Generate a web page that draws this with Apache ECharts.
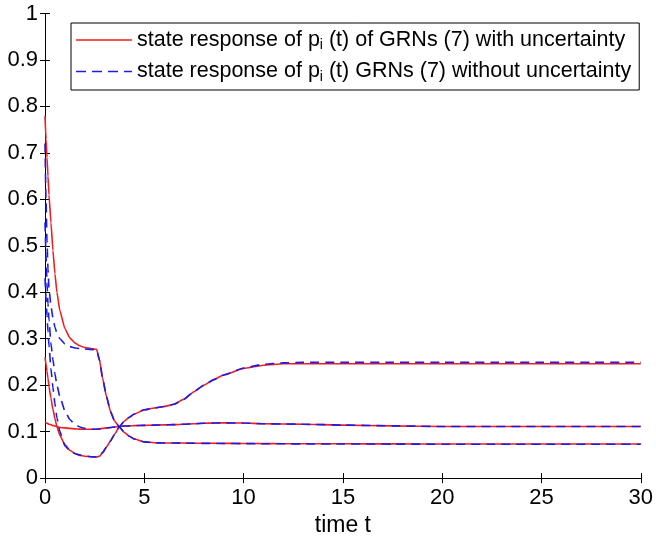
<!DOCTYPE html>
<html>
<head>
<meta charset="utf-8">
<script src="https://cdn.jsdelivr.net/npm/echarts@6/dist/echarts.min.js"></script>
<style>
html,body{margin:0;padding:0;background:#fff;overflow:hidden;}
#chart{width:656px;height:542px;}
</style>
</head>
<body>
<div id="chart"></div>
<script>
// time samples
var timeT = [0, 0.05, 0.1, 0.15, 0.2, 0.3, 0.4, 0.5, 0.6, 0.75, 1.0, 1.25, 1.5, 1.75, 2.0, 2.3, 2.6, 2.75, 2.9, 3.1, 3.3, 3.5, 3.75, 4.0, 4.25, 4.5, 5.0, 5.5, 6.0, 6.5, 7.0, 7.5, 8.0, 8.5, 9.0, 10, 11, 12, 13, 15, 17.5, 20, 22.5, 25, 27.5, 30];

// with uncertainty (red solid)
var redA = [0.78, 0.73, 0.69, 0.65, 0.61, 0.55, 0.49, 0.44, 0.40, 0.36, 0.322, 0.302, 0.291, 0.285, 0.281, 0.279, 0.277, 0.253, 0.215, 0.175, 0.143, 0.123, 0.110, 0.098, 0.090, 0.084, 0.078, 0.076, 0.0755, 0.0755, 0.0755, 0.0752, 0.075, 0.0749, 0.0748, 0.0745, 0.0742, 0.074, 0.0739, 0.0738, 0.0736, 0.0735, 0.0735, 0.0735, 0.0735, 0.0735];
var redB = [0.12, 0.119, 0.118, 0.117, 0.116, 0.115, 0.113, 0.112, 0.111, 0.109, 0.108, 0.107, 0.106, 0.1055, 0.105, 0.105, 0.105, 0.106, 0.107, 0.108, 0.109, 0.110, 0.111, 0.112, 0.1125, 0.113, 0.1135, 0.114, 0.1145, 0.115, 0.116, 0.117, 0.118, 0.1185, 0.119, 0.1185, 0.117, 0.1165, 0.116, 0.114, 0.1125, 0.111, 0.111, 0.111, 0.111, 0.111];
var redC = [0.26, 0.245, 0.23, 0.215, 0.197, 0.172, 0.148, 0.128, 0.111, 0.092, 0.072, 0.060, 0.053, 0.049, 0.047, 0.046, 0.0455, 0.047, 0.055, 0.067, 0.080, 0.094, 0.111, 0.123, 0.131, 0.138, 0.147, 0.151, 0.154, 0.159, 0.170, 0.186, 0.200, 0.212, 0.222, 0.236, 0.243, 0.246, 0.246, 0.246, 0.246, 0.246, 0.246, 0.246, 0.246, 0.246];

// without uncertainty (blue dashed)
var blueA = [0.72, 0.60, 0.51, 0.45, 0.41, 0.37, 0.345, 0.325, 0.312, 0.30, 0.289, 0.283, 0.28, 0.279, 0.278, 0.277, 0.276, 0.253, 0.215, 0.175, 0.143, 0.123, 0.110, 0.098, 0.090, 0.084, 0.078, 0.076, 0.0755, 0.0755, 0.0752, 0.075, 0.0748, 0.0746, 0.0745, 0.0742, 0.074, 0.0738, 0.0736, 0.0734, 0.0732, 0.073, 0.073, 0.073, 0.073, 0.073];
var blueB = [0.55, 0.48, 0.42, 0.375, 0.34, 0.29, 0.255, 0.225, 0.20, 0.175, 0.145, 0.126, 0.116, 0.110, 0.107, 0.105, 0.105, 0.106, 0.107, 0.108, 0.109, 0.110, 0.111, 0.112, 0.1125, 0.113, 0.1135, 0.114, 0.1145, 0.115, 0.116, 0.117, 0.118, 0.1185, 0.119, 0.1185, 0.117, 0.1165, 0.116, 0.114, 0.1125, 0.111, 0.111, 0.111, 0.111, 0.111];
var blueC = [0.43, 0.39, 0.35, 0.315, 0.285, 0.235, 0.195, 0.16, 0.13, 0.10, 0.07, 0.059, 0.053, 0.05, 0.048, 0.046, 0.0455, 0.047, 0.055, 0.067, 0.080, 0.094, 0.111, 0.123, 0.131, 0.138, 0.147, 0.151, 0.154, 0.159, 0.170, 0.186, 0.200, 0.212, 0.222, 0.237, 0.245, 0.248, 0.249, 0.249, 0.249, 0.249, 0.249, 0.249, 0.249, 0.249];

var xTickLabels = ['0', '5', '10', '15', '20', '25', '30'];
var yTickLabels = ['0', '0.1', '0.2', '0.3', '0.4', '0.5', '0.6', '0.7', '0.8', '0.9', '1'];

var legendWith = 'with';
var legendWithout = 'without';

function pairs(vals) {
  return vals.map(function (v, i) { return [timeT[i], v]; });
}

var FONT = '"Liberation Sans", Arial, Helvetica, sans-serif';
var RED = '#f41c1c';
var BLUE = '#1c1ce8';

var chart = echarts.init(document.getElementById('chart'), null, {renderer: 'canvas'});

function redSeries(vals) {
  return {
    name: legendWith, type: 'line', data: pairs(vals), symbol: 'none',
    smooth: 0.15, smoothMonotone: 'x',
    lineStyle: {color: RED, width: 1.6, type: 'solid'},
    itemStyle: {color: RED}, z: 2, animation: false
  };
}
function blueSeries(vals) {
  return {
    name: legendWithout, type: 'line', data: pairs(vals), symbol: 'none',
    smooth: 0.15, smoothMonotone: 'x',
    lineStyle: {color: BLUE, width: 1.6, type: [9, 6]},
    itemStyle: {color: BLUE}, z: 3, animation: false
  };
}

var axisCommon = {
  axisLine: {show: true, lineStyle: {color: '#000', width: 1}},
  axisTick: {show: true, inside: true, length: 5, lineStyle: {color: '#000', width: 1}},
  splitLine: {show: false}
};

var option = {
  backgroundColor: '#fff',
  animation: false,
  grid: {left: 45, right: 11, top: 13.5, bottom: 55.5, containLabel: false},
  legend: {
    orient: 'vertical',
    left: 71, top: 23,
    data: [
      {name: legendWith, icon: 'path://M0,0h56v1.6h-56z', itemStyle: {color: RED}},
      {name: legendWithout, icon: 'path://M0,0h10v1.6h-10z M16,0h10v1.6h-10z M32,0h10v1.6h-10z M48,0h8v1.6h-8z', itemStyle: {color: BLUE}}
    ],
    itemWidth: 56, itemHeight: 1.6, itemGap: 8,
    padding: [6, 8, 6, 5],
    borderColor: '#000', borderWidth: 1,
    backgroundColor: '#fff',
    formatter: function (name) {
      if (name === legendWith) {
        return '{a|state response of p}{s|i}{a| (t) of GRNs (7) with uncertainty}';
      }
      return '{a|state response of p}{s|i}{a| (t) GRNs (7) without uncertainty}';
    },
    textStyle: {
      fontFamily: FONT, fontSize: 21.5, color: '#000',
      rich: {
        a: {fontFamily: FONT, fontSize: 21.5, color: '#000'},
        s: {fontFamily: FONT, fontSize: 14, color: '#000', verticalAlign: 'bottom', padding: [11, 0, 0, 0]}
      }
    }
  },
  xAxis: [
    Object.assign({
      type: 'value', min: 0, max: 30, interval: 5, position: 'bottom',
      name: 'time t', nameLocation: 'middle', nameGap: 31,
      nameTextStyle: {fontFamily: FONT, fontSize: 23, color: '#000'},
      axisLabel: {
        fontFamily: FONT, fontSize: 22, color: '#000', margin: 9,
        formatter: function (v) { return xTickLabels[Math.round(v / 5)]; }
      }
    }, axisCommon),
    Object.assign({
      type: 'value', min: 0, max: 30, interval: 5, position: 'top',
      axisLabel: {show: false}
    }, axisCommon)
  ],
  yAxis: [
    Object.assign({
      type: 'value', min: 0, max: 1, interval: 0.1, position: 'left',
      axisLabel: {
        fontFamily: FONT, fontSize: 22, color: '#000', margin: 7,
        formatter: function (v) { return yTickLabels[Math.round(v * 10)]; }
      }
    }, axisCommon),
    Object.assign({
      type: 'value', min: 0, max: 1, interval: 0.1, position: 'right',
      axisLabel: {show: false}
    }, axisCommon)
  ],
  series: [
    redSeries(redA), redSeries(redB), redSeries(redC),
    blueSeries(blueA), blueSeries(blueB), blueSeries(blueC)
  ]
};
chart.setOption(option);
</script>
</body>
</html>
